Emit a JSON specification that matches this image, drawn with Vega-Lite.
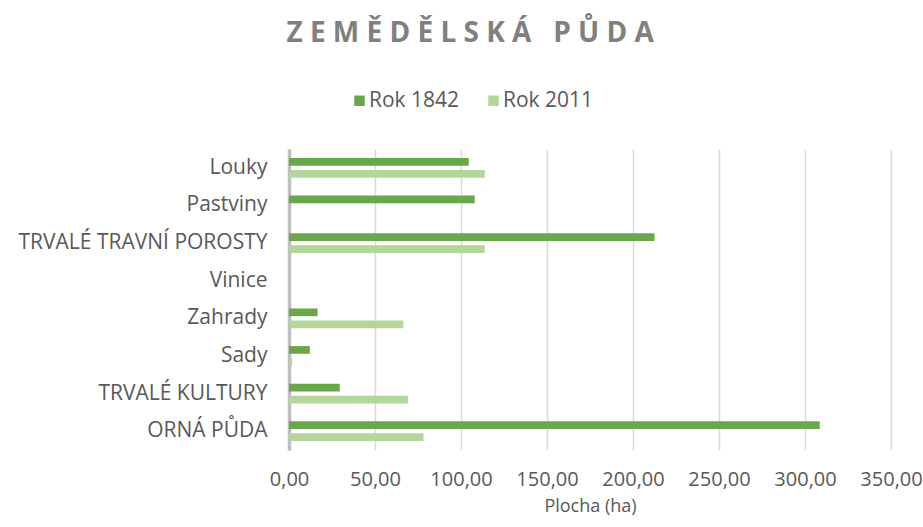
{
  "$schema": "https://vega.github.io/schema/vega-lite/v6.json",
  "autosize": {"type": "none"},
  "width": 602,
  "height": 301,
  "padding": {"left": 289, "top": 149, "right": 32, "bottom": 77},
  "background": "white",
  "title": {
    "text": "Z E M Ě D Ě L S K Á \u00a0 P Ů D A",
    "font": "Open Sans",
    "fontSize": 28,
    "fontWeight": "bold",
    "color": "#808080",
    "anchor": "middle",
    "frame": "bounds",
    "offset": 42
  },
  "data": {
    "values": [
      {"kategorie": "Louky", "rok": "Rok 1842", "plocha": 104.5},
      {"kategorie": "Louky", "rok": "Rok 2011", "plocha": 113.8},
      {"kategorie": "Pastviny", "rok": "Rok 1842", "plocha": 108.0},
      {"kategorie": "Pastviny", "rok": "Rok 2011", "plocha": 0},
      {"kategorie": "TRVALÉ TRAVNÍ POROSTY\u00a0", "rok": "Rok 1842", "plocha": 212.5},
      {"kategorie": "TRVALÉ TRAVNÍ POROSTY\u00a0", "rok": "Rok 2011", "plocha": 113.8},
      {"kategorie": "Vinice", "rok": "Rok 1842", "plocha": 0},
      {"kategorie": "Vinice", "rok": "Rok 2011", "plocha": 0},
      {"kategorie": "Zahrady", "rok": "Rok 1842", "plocha": 16.6},
      {"kategorie": "Zahrady", "rok": "Rok 2011", "plocha": 66.5},
      {"kategorie": "Sady", "rok": "Rok 1842", "plocha": 12.1},
      {"kategorie": "Sady", "rok": "Rok 2011", "plocha": 1.8},
      {"kategorie": "TRVALÉ KULTURY", "rok": "Rok 1842", "plocha": 29.5},
      {"kategorie": "TRVALÉ KULTURY", "rok": "Rok 2011", "plocha": 69.2},
      {"kategorie": "ORNÁ PŮDA", "rok": "Rok 1842", "plocha": 308.6},
      {"kategorie": "ORNÁ PŮDA", "rok": "Rok 2011", "plocha": 78.2}
    ]
  },
  "mark": {"type": "bar", "cornerRadius": 0},
  "encoding": {
    "y": {
      "field": "kategorie",
      "type": "nominal",
      "sort": null,
      "scale": {"paddingInner": 0.476, "paddingOuter": 0.238},
      "axis": {
        "title": null,
        "ticks": false,
        "labelFont": "Open Sans",
        "labelFontSize": 21,
        "labelColor": "#595959",
        "labelPadding": 22,
        "labelLimit": 0,
        "domainColor": "#bfbfbf",
        "domainWidth": 3.5,
        "grid": false
      }
    },
    "yOffset": {"field": "rok", "type": "nominal", "sort": ["Rok 1842", "Rok 2011"], "scale": {"paddingInner": 0.36}},
    "x": {
      "field": "plocha",
      "type": "quantitative",
      "scale": {"domain": [0, 350], "nice": false},
      "axis": {
        "title": "Plocha (ha)",
        "titleFont": "Open Sans",
        "titleFontSize": 18,
        "titleFontWeight": "normal",
        "titleColor": "#595959",
        "titlePadding": 8,
        "values": [0, 50, 100, 150, 200, 250, 300, 350],
        "labelExpr": "replace(format(datum.value, '.2f'), '.', ',')",
        "labelFont": "Open Sans",
        "labelFontSize": 20,
        "labelColor": "#595959",
        "labelPadding": 19,
        "labelOverlap": false,
        "labelBound": false,
        "labelFlush": false,
        "ticks": false,
        "domain": false,
        "grid": true,
        "gridColor": "#d9d9d9",
        "gridWidth": 1.5
      }
    },
    "color": {
      "field": "rok",
      "type": "nominal",
      "scale": {"domain": ["Rok 1842", "Rok 2011"], "range": ["#69a84a", "#b3d69b"]},
      "legend": {
        "title": null,
        "orient": "none",
        "direction": "horizontal",
        "legendX": 60,
        "legendY": -59,
        "symbolType": "square",
        "symbolSize": 110,
        "symbolStrokeWidth": 0,
        "labelFont": "Open Sans",
        "labelFontSize": 21,
        "labelColor": "#595959",
        "columnPadding": 23,
        "labelOffset": -1
      }
    }
  },
  "config": {"view": {"stroke": null}}
}
